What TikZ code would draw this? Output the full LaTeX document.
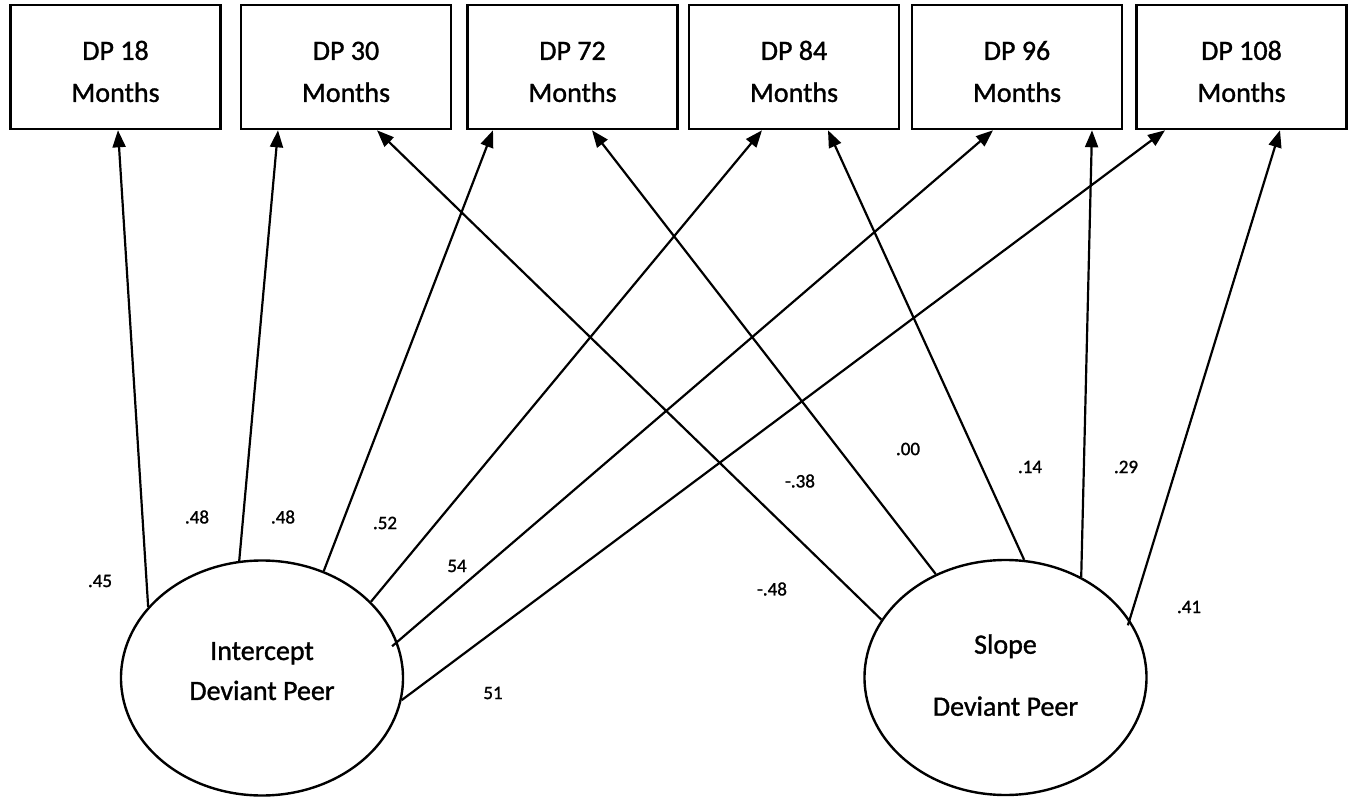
\documentclass[tikz,border=0pt]{standalone}
\usepackage{fontspec}
\setmainfont[FakeBold=1.2]{Carlito}
\usetikzlibrary{arrows.meta,shapes.geometric}
\begin{document}
\begin{tikzpicture}[x=1pt,y=-1pt,
  obsbox/.style={draw,line width=2.6pt,minimum width=210pt,minimum height=124pt,
    inner sep=0pt,align=center,font=\fontsize{28}{42}\selectfont},
  latent/.style={draw,ellipse,line width=2.4pt,minimum width=282pt,minimum height=235pt,
    inner sep=0pt,align=center},
  load/.style={line width=2.2pt,-{Triangle[length=17pt,width=13pt]}},
  coef/.style={font=\fontsize{19}{19}\selectfont,inner sep=0pt}
]
\useasboundingbox[fill=white] (0,0) rectangle (1353,797);

% observed deviant-peer measures
\node[obsbox] (b1) at (115.5,67) {\rule{0pt}{28pt}DP 18\\Months};
\node[obsbox] (b2) at (346,67)   {\rule{0pt}{28pt}DP 30\\Months};
\node[obsbox] (b3) at (572.5,67) {\rule{0pt}{28pt}DP 72\\Months};
\node[obsbox] (b4) at (794,67)   {\rule{0pt}{28pt}DP 84\\Months};
\node[obsbox] (b5) at (1017,67)  {\rule{0pt}{28pt}DP 96\\Months};
\node[obsbox] (b6) at (1241.5,67){\rule{0pt}{28pt}DP 108\\Months};

% latent growth factors
\node[latent,font=\fontsize{28}{40}\selectfont] (int) at (262,678)
  {Intercept\\Deviant Peer\rule[-14pt]{0pt}{14pt}};
\node[latent,font=\fontsize{28}{62}\selectfont] (slp) at (1005.5,677.5)
  {Slope\\Deviant Peer\rule[-5pt]{0pt}{5pt}};

% intercept loadings
\draw[load] (int.148.7) -- ([xshift=2.5pt]b1.south);
\draw[load] (int.101.2) -- ([xshift=-68pt]b2.south);
\draw[load] (int.60.5)  -- ([xshift=-79.5pt]b3.south);
\draw[load] (int.35.6)  -- ([xshift=-32pt]b4.south);
\draw[load,shorten <=-7pt] (int.15.8) -- ([xshift=-24pt]b5.south);
\draw[load] (int.-9.7)  -- ([xshift=-76.5pt]b6.south);

% slope loadings
\draw[load] (slp.155)   -- ([xshift=31pt]b2.south);
\draw[load] (slp.124.9) -- ([xshift=19.5pt]b3.south);
\draw[load] (slp.81.5)  -- ([xshift=34pt]b4.south);
\draw[load] (slp.53.1)  -- ([xshift=75pt]b5.south);
\draw[load,shorten <=-6pt] (slp.25.8) -- ([xshift=38.5pt]b6.south);

% standardized coefficients
\node[coef] (c1)  at (100,581)  {.45};
\node[coef] (c2)  at (197,517)  {.48};
\node[coef] (c3)  at (283,517)  {.48};
\node[coef] (c4)  at (385,523)  {.52};
\node[coef] (c5)  at (457,566)  {54};
\node[coef] (c6)  at (493,693)  {51};
\node[coef] (c7)  at (800,481)  {-.38};
\node[coef] (c8)  at (772,589)  {-.48};
\node[coef] (c9)  at (908,449)  {.00};
\node[coef] (c10) at (1030,467) {.14};
\node[coef] (c11) at (1126,467) {.29};
\node[coef] (c12) at (1189,607) {.41};
\end{tikzpicture}
\end{document}
